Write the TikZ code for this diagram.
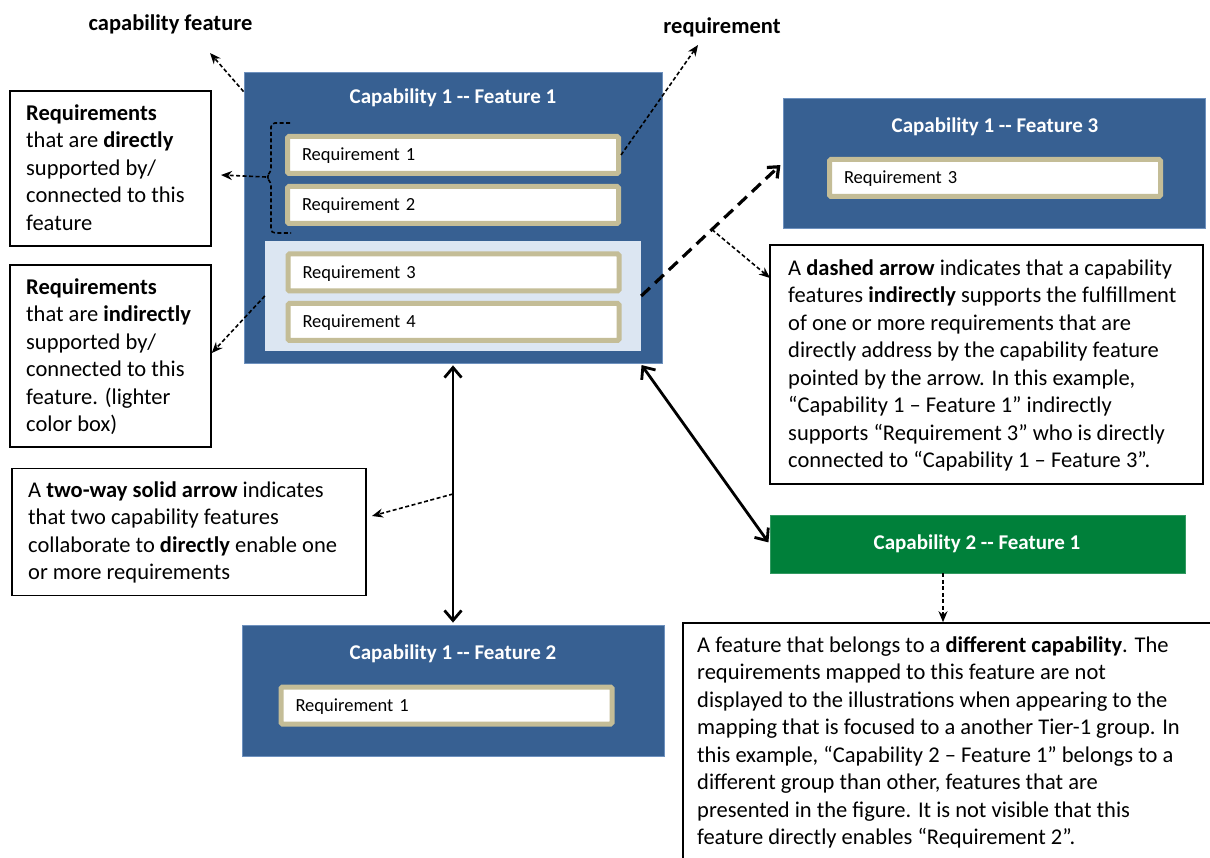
\documentclass[tikz,border=0pt]{standalone}
\usepackage{fontspec}
\setmainfont{Carlito}
\usetikzlibrary{arrows.meta,calc}

\definecolor{capblue}{RGB}{55,96,146}
\definecolor{capedge}{RGB}{110,145,190}
\definecolor{lightfill}{RGB}{220,230,242}
\definecolor{reqgold}{RGB}{196,189,151}
\definecolor{capgreen}{RGB}{0,128,58}

\newcommand\bodysize{\fontsize{22.5}{27.5}\selectfont}
\newcommand\reqsize{\fontsize{18.5}{22}\selectfont}
\newcommand\capsize{\fontsize{21}{25}\selectfont\bfseries}
\newcommand\twohyph{-\kern0pt-}

\begin{document}
\begin{tikzpicture}[x=1pt,y=-1pt,
  capbox/.style={draw=capedge, line width=0.8pt, fill=capblue, inner sep=0pt},
  greenbox/.style={draw=capgreen!80!white, line width=0.8pt, fill=capgreen, inner sep=0pt},
  lightbox/.style={fill=lightfill, inner sep=0pt},
  reqbox/.style={draw=reqgold, line width=5pt, fill=white, rounded corners=1.5pt,
    minimum width=331pt, minimum height=37pt, text width=302pt, align=left,
    inner sep=0pt, text height=12pt, text depth=0pt, font=\reqsize},
  captitle/.style={anchor=base, inner sep=0pt, text=white, font=\capsize},
  callout/.style={draw=black, line width=1.6pt, fill=white, inner sep=0pt},
  bodytext/.style={anchor=north west, inner sep=0pt, align=left, font=\bodysize},
  lbl/.style={anchor=base, inner sep=0pt, font=\bodysize\bfseries},
  annot/.style={line width=1.6pt, dash pattern=on 4pt off 2.5pt,
    -{Stealth[length=11pt,width=9pt]}},
  bracket/.style={line width=1.6pt, dash pattern=on 4pt off 2.5pt, rounded corners=4pt},
  twoway/.style={line width=2.8pt, {Straight Barb[length=10pt,width=17pt]}-{Straight Barb[length=10pt,width=17pt]},
    shorten <=2pt, shorten >=2pt},
  indirect/.style={line width=3.2pt, dash pattern=on 12pt off 7pt,
    -{Straight Barb[length=9pt,width=15pt]}, shorten >=3pt}
]
\useasboundingbox (0,0) rectangle (1210,858);
\clip (0,0) rectangle (1210,858);

% ---- Capability 1 -- Feature 1 ----
\node[capbox, minimum width=418pt, minimum height=291pt] (F1) at (453,217.5) {};
\node[lightbox, minimum width=376pt, minimum height=110pt] (F1low) at (453,296) {};
\node[captitle] (F1t) at (453,103.5) {Capability 1 \twohyph{} Feature 1};
\node[reqbox] (F1r1) at (453,155) {Requirement 1};
\node[reqbox] (F1r2) at (453,205) {Requirement 2};
\node[reqbox] (F1r3) at (453.5,272.5) {Requirement 3};
\node[reqbox] (F1r4) at (453.5,322) {Requirement 4};

% ---- Capability 1 -- Feature 3 ----
\node[capbox, minimum width=422pt, minimum height=130pt] (F3) at (994,163) {};
\node[captitle] (F3t) at (995,132.5) {Capability 1 \twohyph{} Feature 3};
\node[reqbox] (F3r3) at (995,178) {Requirement 3};

% ---- Capability 1 -- Feature 2 ----
\node[capbox, minimum width=422pt, minimum height=131pt] (F2) at (453,690.5) {};
\node[captitle] (F2t) at (453,659.5) {Capability 1 \twohyph{} Feature 2};
\node[reqbox] (F2r1) at (446.5,705.5) {Requirement 1};

% ---- Capability 2 -- Feature 1 ----
\node[greenbox, minimum width=415pt, minimum height=58pt] (G1) at (977.5,544) {};
\node[captitle] (G1t) at (977,549.5) {Capability 2 \twohyph{} Feature 1};

% ---- top labels ----
\node[lbl] (lblCF) at (170.5,30.5) {capability feature};
\node[lbl] (lblReq) at (722,34) {requirement};

% ---- explanation boxes ----
\node[callout, minimum width=201pt, minimum height=155pt] (cbDirect) at (110.5,168.5) {};
\node[bodytext] (txDirect) at (26,100.75)
  {\strut\textbf{Requirements}\\that are \textbf{directly}\\supported by/\\connected to this\\feature};

\node[callout, minimum width=201pt, minimum height=182pt] (cbIndirect) at (110.5,356) {};
\node[bodytext] (txIndirect) at (26,274.75)
  {\strut\textbf{Requirements}\\that are \textbf{indirectly}\\supported by/\\connected to this\\feature. (lighter\\color box)};

\node[callout, minimum width=354pt, minimum height=127pt] (cbTwoWay) at (189,532) {};
\node[bodytext] (txTwoWay) at (28,477.75)
  {\strut A \textbf{two-way solid arrow} indicates\\that two capability features\\collaborate to \textbf{directly} enable one\\or more requirements};

\node[callout, minimum width=433pt, minimum height=239pt] (cbDashed) at (986.5,364.5) {};
\node[bodytext] (txDashed) at (788,255.75)
  {\strut A \textbf{dashed arrow} indicates that a capability\\features \textbf{indirectly} supports the fulfillment\\of one or more requirements that are\\directly address by the capability feature\\pointed by the arrow. In this example,\\“Capability 1 – Feature 1” indirectly\\supports “Requirement 3” who is directly\\connected to “Capability 1 – Feature 3”.};

\node[callout, minimum width=530pt, minimum height=243pt] (cbDifferent) at (948,744.5) {};
\node[bodytext] (txDifferent) at (697,632.75)
  {\strut A feature that belongs to a \textbf{different capability}. The\\requirements mapped to this feature are not\\displayed to the illustrations when appearing to the\\mapping that is focused to a another Tier-1 group. In\\this example, “Capability 2 – Feature 1” belongs to a\\different group than other, features that are\\presented in the figure. It is not visible that this\\feature directly enables “Requirement 2”.};

% ---- free ends of the pointer arrows ----
\coordinate (cfTip) at (210,53);
\coordinate (reqTip) at (698,45);
\coordinate (braceTip) at (266,177);
\coordinate (dirTip) at (221,175);
\coordinate (dashTip) at (770,278);
\coordinate (twoTip) at (372,516);

% ---- bracket grouping Requirement 1 and 2 ----
\draw[bracket] (290,123) -- (271,123) -- (271,172) -- (braceTip) -- (271,182) -- (271,233) -- (291,233);

% ---- pointer arrows ----
\draw[annot] ([yshift=-20pt]F1.north west) -- (cfTip);
\draw[annot] (F1r1.east) -- (reqTip);
\draw[annot] (braceTip) -- (dirTip);
\draw[annot] (F1low.west) -- ([yshift=3pt]cbIndirect.east);

% ---- relations between features ----
\draw[indirect] (F1low.east) -- coordinate[pos=0.5] (dmid) (F3.west);
\draw[annot] (dmid) -- (dashTip);

\draw[twoway] (F1.south) -- coordinate[pos=0.5] (vmid) (F2.north);
\draw[annot] (vmid) -- (twoTip);

\draw[twoway] ([xshift=-22pt]F1.south east) -- (G1.west);

\coordinate (gsrc) at ([xshift=-34.5pt]G1.south);
\draw[annot] (gsrc) -- (gsrc |- cbDifferent.north);
\end{tikzpicture}
\end{document}
